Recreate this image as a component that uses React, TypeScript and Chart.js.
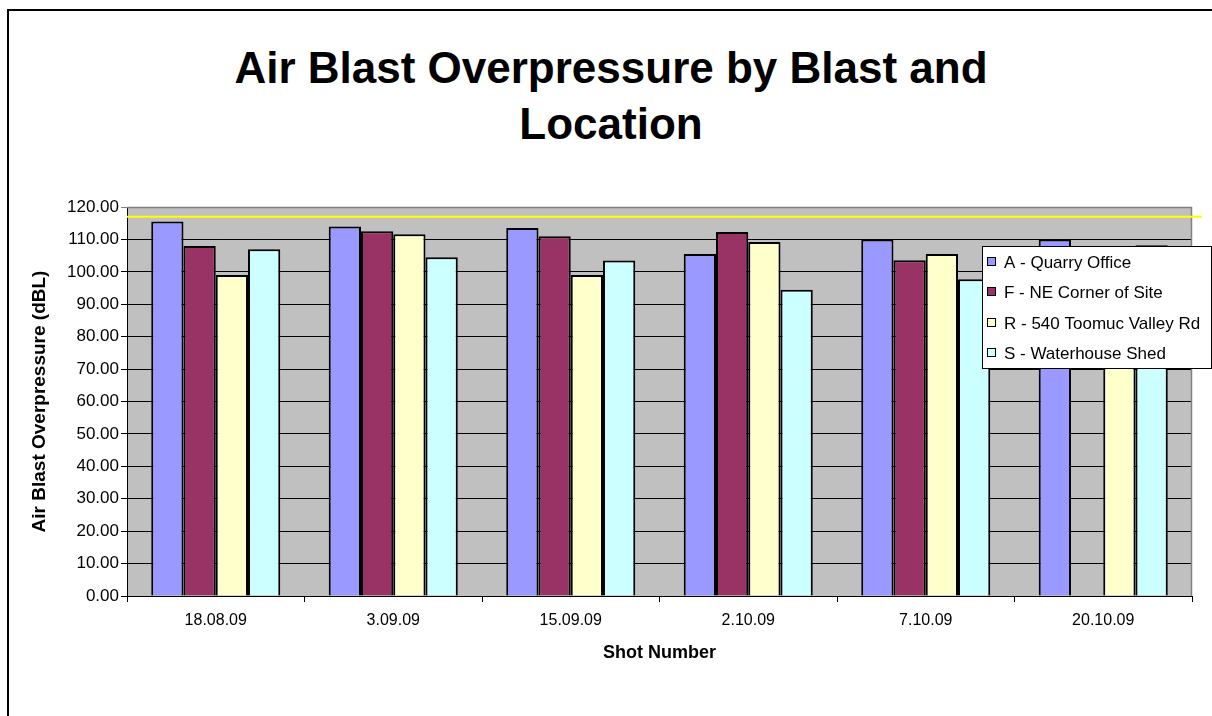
import React, { useEffect, useRef } from "react";
import { Chart, registerables } from "chart.js";

Chart.register(...registerables);

const categories = ["18.08.09", "3.09.09", "15.09.09", "2.10.09", "7.10.09", "20.10.09"];
const seriesNames = [
  "A - Quarry Office",
  "F - NE Corner of Site",
  "R - 540 Toomuc Valley Rd",
  "S - Waterhouse Shed",
];
const quarryOffice = [115.5, 114.0, 113.5, 105.5, 110.0, 110.0];
const neCorner = [108.0, 112.5, 111.0, 112.3, 103.6, null];
const toomucValley = [99.0, 111.6, 99.0, 109.2, 105.5, 106.0];
const waterhouseShed = [107.0, 104.5, 103.5, 94.5, 97.7, 108.2];
const limitValue = 117;
const seriesColors = ["#9999FF", "#993366", "#FFFFCC", "#CCFFFF"];

const FONT = "'Liberation Sans', Arial, sans-serif";

export default function App() {
  const canvasRef = useRef<HTMLCanvasElement | null>(null);

  useEffect(() => {
    document.body.style.margin = "0";
    const canvas = canvasRef.current;
    if (!canvas) return;

    const plotBg = {
      id: "plotBg",
      beforeDraw(chart: any) {
        const { ctx, chartArea } = chart;
        ctx.save();
        ctx.fillStyle = "#C0C0C0";
        ctx.fillRect(chartArea.left, chartArea.top, chartArea.right - chartArea.left, chartArea.bottom - chartArea.top);
        ctx.restore();
      },
    };

    const overlay = {
      id: "overlay",
      afterDatasetsDraw(chart: any) {
        const { ctx, chartArea, scales } = chart;
        ctx.save();
        ctx.strokeStyle = "#808080";
        ctx.lineWidth = 1.5;
        ctx.beginPath();
        ctx.moveTo(chartArea.left, chartArea.top + 0.5);
        ctx.lineTo(chartArea.right - 0.5, chartArea.top + 0.5);
        ctx.lineTo(chartArea.right - 0.5, chartArea.bottom);
        ctx.stroke();
        const y = scales.y.getPixelForValue(limitValue);
        ctx.strokeStyle = "#FFFF00";
        ctx.lineWidth = 2;
        ctx.beginPath();
        ctx.moveTo(chartArea.left, y);
        ctx.lineTo(chartArea.right + 10, y);
        ctx.stroke();
        ctx.restore();
      },
      afterDraw(chart: any) {
        const { ctx } = chart;
        ctx.save();
        const bx = 982.5, by = 246.5, bw = 229, bh = 122;
        ctx.fillStyle = "#FFFFFF";
        ctx.fillRect(bx, by, bw, bh);
        ctx.strokeStyle = "#000";
        ctx.lineWidth = 1;
        ctx.strokeRect(bx, by, bw, bh);
        ctx.font = `17px ${FONT}`;
        ctx.textBaseline = "middle";
        ctx.textAlign = "left";
        const rows = [262, 292, 323, 353];
        seriesNames.forEach((name, i) => {
          const yy = rows[i];
          ctx.fillStyle = seriesColors[i];
          ctx.fillRect(987.5, yy - 4.5, 8, 8);
          ctx.strokeStyle = "#000";
          ctx.strokeRect(987.5, yy - 4.5, 8, 8);
          ctx.fillStyle = "#000";
          ctx.fillText(name, 1004, yy + 1);
        });
        ctx.restore();
      },
    };

    const values = [quarryOffice, neCorner, toomucValley, waterhouseShed];

    const chart = new Chart(canvas, {
      type: "bar",
      data: {
        labels: categories,
        datasets: values.map((d, i) => ({
          label: seriesNames[i],
          data: d as any,
          backgroundColor: seriesColors[i],
          borderColor: "#000000",
          borderWidth: 2,
          categoryPercentage: 0.727,
          barPercentage: 1,
        })),
      },
      options: {
        responsive: false,
        animation: false,
        layout: { padding: { top: 207, right: 20, left: 0, bottom: 52 } },
        plugins: {
          legend: { display: false },
          title: { display: false },
          tooltip: { enabled: false },
        },
        scales: {
          x: {
            afterFit(scale: any) {
              scale.height = 68;
            },
            grid: {
              display: true,
              drawOnChartArea: false,
              offset: true,
              tickLength: 6,
              color: "#000",
            },
            border: { color: "#000", width: 1 },
            ticks: { color: "#000", font: { family: FONT, size: 16 }, padding: 9, maxRotation: 0 },
            title: {
              display: true,
              text: "Shot Number",
              color: "#000",
              font: { family: FONT, size: 18, weight: "bold" },
              padding: 0,
            },
          },
          y: {
            min: 0,
            max: 120,
            afterFit(scale: any) {
              scale.width = 127;
            },
            grid: {
              color: (c: any) => (c.tick && c.tick.value === 120 ? "#808080" : "#000"),
              lineWidth: 1,
              tickLength: 6,
            },
            border: { color: "#000", width: 1 },
            ticks: {
              stepSize: 10,
              color: "#000",
              font: { family: FONT, size: 17 },
              padding: 2,
              callback: (v: any) => Number(v).toFixed(2),
            },
            title: {
              display: true,
              text: "Air Blast Overpressure (dBL)",
              color: "#000",
              font: { family: FONT, size: 19, weight: "bold" },
              padding: { top: 28, bottom: 0 },
            },
          },
        },
      },
      plugins: [plotBg, overlay],
    });

    return () => chart.destroy();
  }, []);

  return (
    <div style={{ position: "relative", width: 1212, height: 716, overflow: "hidden", background: "#fff" }}>
      <div
        style={{
          position: "absolute",
          left: 7,
          top: 9,
          width: 1300,
          height: 800,
          border: "2px solid #000",
          boxSizing: "border-box",
        }}
      />
      <div
        style={{
          position: "absolute",
          left: 0,
          top: 0,
          width: 1212,
          textAlign: "center",
          fontFamily: FONT,
          fontWeight: "bold",
          fontSize: 44,
          lineHeight: "56px",
          color: "#000",
          paddingTop: 40,
          paddingLeft: 10,
          boxSizing: "border-box",
        }}
      >
        <div>Air Blast Overpressure by Blast and</div>
        <div>Location</div>
      </div>
      <canvas ref={canvasRef} width={1212} height={716} style={{ position: "absolute", left: 0, top: 0 }} />
    </div>
  );
}
